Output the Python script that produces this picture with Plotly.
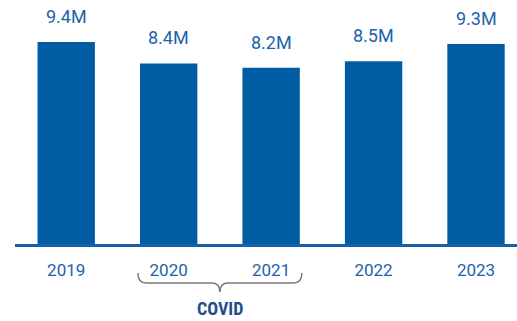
import plotly.graph_objects as go

years = ["2019", "2020", "2021", "2022", "2023"]
values = [9.4, 8.4, 8.2, 8.5, 9.3]
labels = ["9.4M", "8.4M", "8.2M", "8.5M", "9.3M"]
covid_span = ["2020", "2021"]
covid_label = "COVID"

BAR = "#005DA4"
TXT = "#1B63AB"
GRAY = "#7a7a7a"
FONT = "Roboto, sans-serif"

fig = go.Figure()
fig.add_trace(go.Bar(x=years, y=values, marker=dict(color=BAR, line=dict(width=0)),
                     hoverinfo="skip"))

for i, (v, t) in enumerate(zip(values, labels)):
    fig.add_annotation(x=i, y=v, xref="x", yref="y", text=t, showarrow=False,
                       yanchor="bottom", yshift=13,
                       font=dict(family=FONT, size=18, color=TXT))

i0 = years.index(covid_span[0]) - 0.3
i1 = years.index(covid_span[1]) + 0.3
im = (i0 + i1) / 2
d = 0.08
path = (f"M {i0},-29 Q {i0},-39 {i0+d},-39 L {im-d},-39 Q {im},-39 {im},-48 "
        f"Q {im},-39 {im+d},-39 L {i1-d},-39 Q {i1},-39 {i1},-29")
fig.add_shape(type="path", path=path, xref="x", yref="paper", ysizemode="pixel",
              yanchor=0, line=dict(color=GRAY, width=1.5))
fig.add_annotation(x=im, y=0, xref="x", yref="paper", text=f"<b>{covid_label}</b>",
                   showarrow=False, yanchor="middle", yshift=-64,
                   font=dict(family="'Liberation Sans Narrow', 'Roboto Condensed', Roboto, sans-serif",
                             size=18, color="#1F4E8C"))

fig.update_layout(
    width=517, height=321,
    margin=dict(l=15, r=0, t=0, b=77),
    paper_bgcolor="white", plot_bgcolor="white",
    bargap=0.44,
    showlegend=False,
    xaxis=dict(type="category", range=[-0.5, 4.4], showline=True, linecolor="#1560A8",
               linewidth=2.5, ticks="", showgrid=False, zeroline=False,
               tickfont=dict(family=FONT, size=17, color=TXT), ticklabelstandoff=9),
    yaxis=dict(range=[0, 244/21.5], showticklabels=False, showline=False, ticks="",
               showgrid=False, zeroline=False),
)
fig.write_html("out.html")
